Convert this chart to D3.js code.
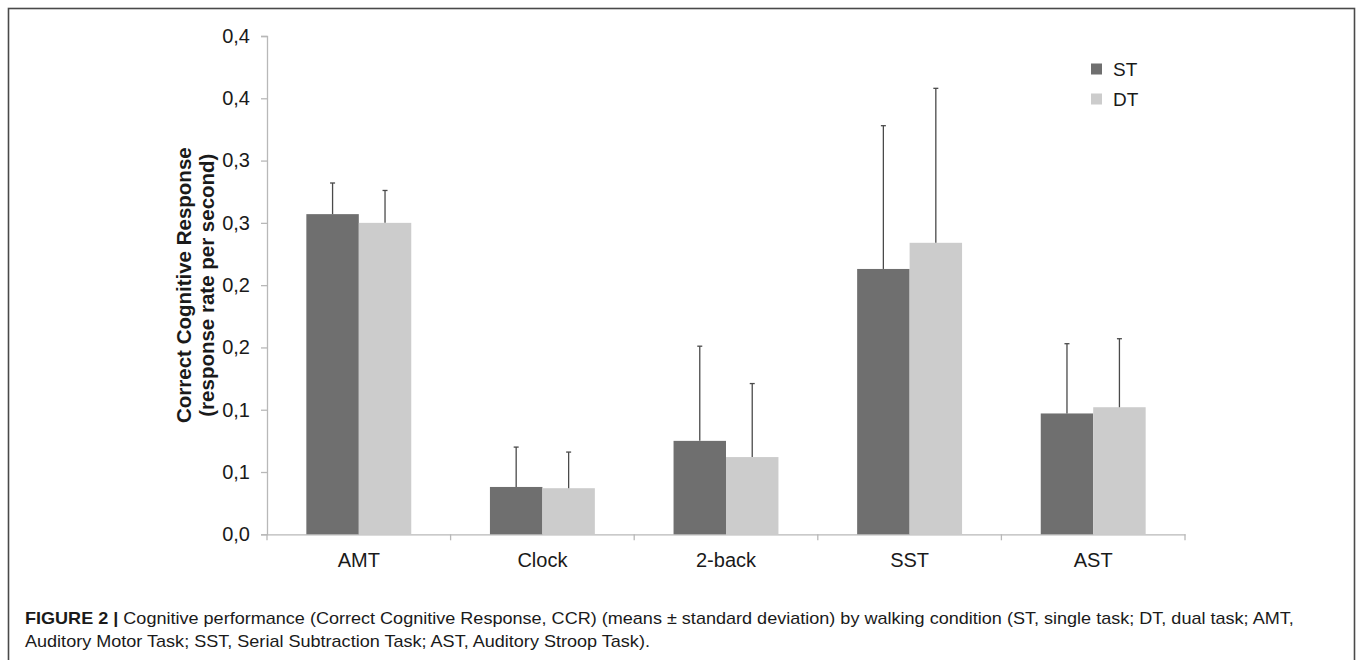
<!DOCTYPE html>
<html>
<head>
<meta charset="utf-8">
<script src="https://cdnjs.cloudflare.com/ajax/libs/d3/7.8.5/d3.min.js"></script>
<style>
    body { margin: 0; background: #fff; }
    svg { display: block; }
    text { font-family: "Liberation Sans", Arial, Helvetica, sans-serif; fill: #1a1a1a; }
    .caption text { font-family: "Liberation Sans Narrow", "Liberation Sans", Arial, sans-serif; }
</style>
</head>
<body>
<svg id="chart" width="1358" height="660"></svg>
<script>
/*
    Correct Cognitive Response by task and walking condition (ST / DT).
*/

var categories = ["AMT", "Clock", "2-back", "SST", "AST"];
var series = ["ST", "DT"];

// means
var stMeans = [0.257, 0.038, 0.075, 0.213, 0.097];
var dtMeans = [0.250, 0.037, 0.062, 0.234, 0.102];

// standard deviation (upper bar only)
var stSD = [0.025, 0.032, 0.076, 0.115, 0.056];
var dtSD = [0.026, 0.029, 0.059, 0.124, 0.055];

var yTicks = [0, 0.05, 0.10, 0.15, 0.20, 0.25, 0.30, 0.35, 0.40];
var yTickLabels = ["0,0", "0,1", "0,1", "0,2", "0,2", "0,3", "0,3", "0,4", "0,4"];

var colors = { ST: "#6f6f6f", DT: "#cccccc" };

var captionBold = "FIGURE 2 |";
var captionLine1 = " Cognitive performance (Correct Cognitive Response, CCR) (means \u00B1 standard deviation) by walking condition (ST, single task; DT, dual task; AMT,";
var captionLine2 = "Auditory Motor Task; SST, Serial Subtraction Task; AST, Auditory Stroop Task).";

var svg = d3.select("#chart");

// рамка вокруг рисунка
svg.append("rect")
    .attr("x", 8.5).attr("y", 8.5)
    .attr("width", 1346).attr("height", 680)
    .attr("fill", "none")
    .attr("stroke", "#4a4a4a")
    .attr("stroke-width", 1.6);

var x = d3.scaleBand()
    .domain(categories)
    .range([267, 1185])
    .paddingInner(0).paddingOuter(0);

var xInner = d3.scaleBand()
    .domain(series)
    .range([0, x.bandwidth()])
    .paddingInner(0).paddingOuter(0.75);

var y = d3.scaleLinear()
    .domain([0, 0.4])
    .range([534.3, 36]);

var rows = categories.map(function(c, i) {
    return {
        key: c,
        values: [
            { s: "ST", mean: stMeans[i], sd: stSD[i] },
            { s: "DT", mean: dtMeans[i], sd: dtSD[i] }
        ]
    };
});

///////////////////////
// оси
///////////////////////

var yAxis = svg.append("g")
    .attr("transform", "translate(" + x.range()[0] + ",0)")
    .call(d3.axisLeft(y)
        .tickValues(yTicks)
        .tickFormat(function(d, i) { return yTickLabels[i]; })
        .tickSize(6)
        .tickPadding(11));

yAxis.select(".domain").attr("stroke", "#b8b8b8").attr("stroke-width", 1.3);
yAxis.selectAll(".tick line").attr("stroke", "#b8b8b8").attr("stroke-width", 1.3);
yAxis.selectAll(".tick text")
    .style("font-size", "20px")
    .style("font-family", "'Liberation Sans', Arial, sans-serif")
    .attr("fill", "#1a1a1a");

var xAxis = svg.append("g")
    .attr("transform", "translate(0," + y(0) + ")")
    .call(d3.axisBottom(x).tickSize(0).tickPadding(18.5));

xAxis.select(".domain").attr("stroke", "#b8b8b8").attr("stroke-width", 1.3);
xAxis.selectAll(".tick text")
    .style("font-size", "20px")
    .style("font-family", "'Liberation Sans', Arial, sans-serif")
    .attr("fill", "#1a1a1a");

// засечки на границах категорий
var bounds = categories.map(function(c) { return x(c); }).concat([x.range()[1]]);
xAxis.selectAll("line.bound")
    .data(bounds)
    .enter().append("line")
    .attr("class", "bound")
    .attr("x1", function(d) { return d; })
    .attr("x2", function(d) { return d; })
    .attr("y1", 0).attr("y2", 6)
    .attr("stroke", "#b8b8b8")
    .attr("stroke-width", 1.3);

///////////////////////
// столбики
///////////////////////

var groups = svg.append("g").selectAll("g.cat")
    .data(rows)
    .enter().append("g")
    .attr("class", "cat")
    .attr("transform", function(d) { return "translate(" + x(d.key) + ",0)"; });

groups.selectAll("rect")
    .data(function(d) { return d.values; })
    .enter().append("rect")
    .attr("x", function(d) { return xInner(d.s); })
    .attr("y", function(d) { return y(d.mean); })
    .attr("width", xInner.bandwidth())
    .attr("height", function(d) { return y(0) - y(d.mean); })
    .attr("fill", function(d) { return colors[d.s]; });

// усы (только вверх)
var err = groups.selectAll("g.err")
    .data(function(d) { return d.values; })
    .enter().append("g")
    .attr("class", "err")
    .attr("transform", function(d) { return "translate(" + (xInner(d.s) + xInner.bandwidth() / 2) + ",0)"; });

err.append("line")
    .attr("x1", 0).attr("x2", 0)
    .attr("y1", function(d) { return y(d.mean); })
    .attr("y2", function(d) { return y(d.mean + d.sd); })
    .attr("stroke", "#4a4a4a")
    .attr("stroke-width", 1.3);

err.append("line")
    .attr("x1", -2.5).attr("x2", 2.5)
    .attr("y1", function(d) { return y(d.mean + d.sd); })
    .attr("y2", function(d) { return y(d.mean + d.sd); })
    .attr("stroke", "#4a4a4a")
    .attr("stroke-width", 1.3);

///////////////////////
// подпись оси Y
///////////////////////

var ytitle = svg.append("text")
    .attr("transform", "translate(191," + ((y(0) + y(0.4)) / 2) + ") rotate(-90)")
    .attr("text-anchor", "middle")
    .style("font-size", "20.5px")
    .style("font-weight", "bold");

ytitle.append("tspan").attr("x", 0).attr("y", 0).text("Correct Cognitive Response");
ytitle.append("tspan").attr("x", 0).attr("y", 22.5).text("(response rate per second)");

///////////////////////
// легенда
///////////////////////

var legend = svg.append("g").selectAll("g.leg")
    .data(series)
    .enter().append("g")
    .attr("class", "leg")
    .attr("transform", function(d, i) { return "translate(1091," + (63.5 + i * 30) + ")"; });

legend.append("rect")
    .attr("width", 11).attr("height", 11)
    .attr("fill", function(d) { return colors[d]; });

legend.append("text")
    .attr("x", 22).attr("y", 12)
    .style("font-size", "19px")
    .text(function(d) { return d; });

///////////////////////
// подпись рисунка
///////////////////////

var cap = svg.append("g").attr("class", "caption");

var line1 = cap.append("text")
    .style("font-size", "16px")
    .attr("fill", "#222");
line1.append("tspan").style("font-weight", "bold").text(captionBold);
line1.append("tspan").text(captionLine1);

var line2 = cap.append("text")
    .style("font-size", "16px")
    .attr("fill", "#222")
    .text(captionLine2);

var k = 1270 / line1.node().getComputedTextLength();
line1.attr("transform", "translate(25,624) scale(" + k + ",1)");
line2.attr("transform", "translate(25,647) scale(" + k + ",1)");
</script>
</body>
</html>
